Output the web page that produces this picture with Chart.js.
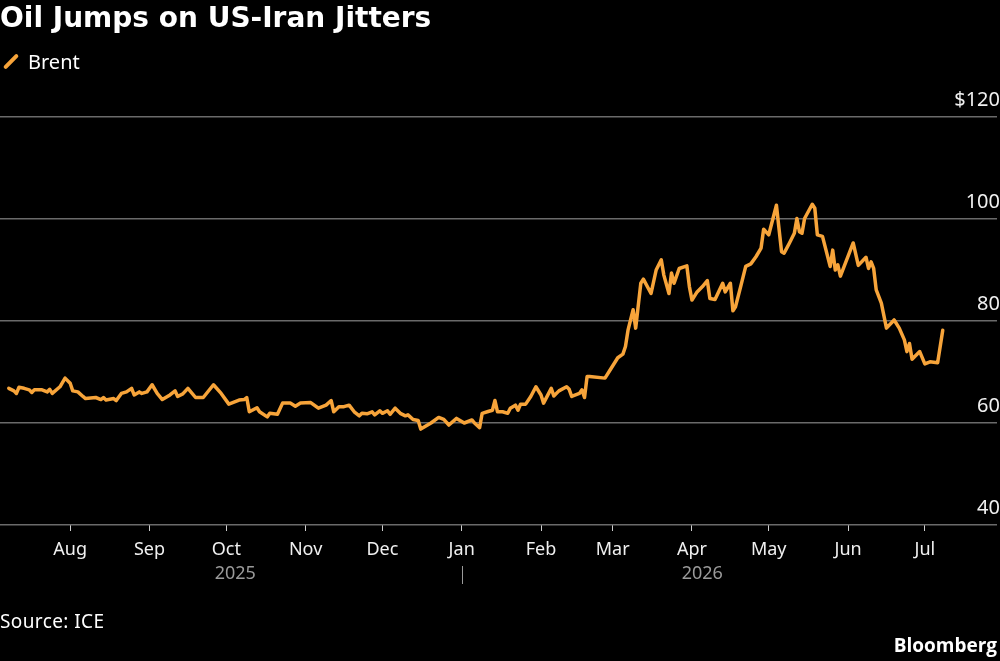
<!DOCTYPE html>
<html>
<head>
<meta charset="utf-8">
<script src="https://cdn.jsdelivr.net/npm/chart.js@4/dist/chart.umd.min.js"></script>
<style>
  html, body { margin: 0; padding: 0; background: #000; }
  body { width: 1000px; height: 661px; position: relative; overflow: hidden; font-family: 'Noto Sans', 'Open Sans', sans-serif; color: #fff; }
  #chart { position: absolute; left: 0; top: 0; }
  .title { position: absolute; left: 0; top: 0; font-size: 28px; line-height: 36px; font-weight: 700; font-family: 'DejaVu Sans', sans-serif; }
  .legend { position: absolute; left: 0; top: 50px; font-size: 20px; line-height: 24px; }
  .legend .mark { position: absolute; left: 9px; top: 2px; width: 4px; height: 19px; background: #f7a43a; border-radius: 2px; transform: rotate(45deg); }
  .legend .txt { position: absolute; left: 28px; top: 0; }
  .source { position: absolute; left: 0; top: 609px; font-size: 19px; line-height: 24px; letter-spacing: 0.4px; }
  .brand { position: absolute; right: 3px; top: 633px; font-size: 19px; line-height: 24px; font-weight: 700; font-family: 'Open Sans', 'Noto Sans', sans-serif; }
</style>
</head>
<body>
<canvas id="chart" width="1000" height="661"></canvas>
<div class="title">Oil Jumps on US-Iran Jitters</div>
<div class="legend"><span class="mark"></span><span class="txt">Brent</span></div>
<div class="source">Source: ICE</div>
<div class="brand">Bloomberg</div>
<script>
// days since 1 Aug 2025
const dayOffsets = [-24,-22,-21,-20,-18,-16,-15,-14,-11,-9,-8,-7,-4,-2,0,1,3,5,6,10,12,13,14,17,18,20,22,24,25,27,28,30,32,34,36,39,41,42,44,46,49,52,56,59,62,66,68,69,70,73,74,77,78,81,83,86,88,90,94,97,100,102,103,105,107,109,111,113,114,116,118,119,121,122,124,125,127,129,131,132,134,136,137,139,141,144,146,148,151,154,157,158,160,161,163,165,166,167,169,171,172,174,175,176,178,180,182,184,185,188,189,191,194,195,196,199,200,201,202,203,209,211,214,216,217,218,220,221,223,224,227,229,231,232,234,235,236,238,241,242,243,245,247,249,250,252,255,256,258,259,260,262,264,266,268,270,271,273,276,278,279,281,283,284,285,286,287,290,291,292,294,297,298,299,300,301,306,308,311,312,313,314,315,317,319,322,324,326,327,328,329,332,334,336,339,341];
const brent = [66.8,66.3,65.8,67.0,66.8,66.5,66.0,66.5,66.5,66.1,66.6,65.8,67.1,68.8,67.8,66.3,66.1,65.2,64.8,65.0,64.6,65.0,64.5,64.8,64.4,65.8,66.1,66.8,65.5,66.1,65.8,66.1,67.5,65.8,64.6,65.5,66.3,65.2,65.7,66.8,65.0,65.0,67.5,65.8,63.7,64.5,64.6,65.0,62.2,63.0,62.2,61.2,61.9,61.7,63.9,63.9,63.3,63.9,64.0,62.9,63.5,64.4,62.2,63.2,63.2,63.5,62.2,61.4,61.9,61.8,62.2,61.6,62.4,61.9,62.4,61.7,62.9,61.9,61.4,61.6,60.7,60.5,58.8,59.4,60.0,61.1,60.7,59.6,60.9,60.0,60.6,60.0,59.1,61.9,62.2,62.5,64.4,62.2,62.2,61.9,62.9,63.5,62.5,63.7,63.7,65.2,67.1,65.5,63.9,66.8,65.3,66.3,67.1,66.6,65.2,65.8,66.5,65.0,69.1,69.1,68.8,70.4,72.8,73.5,75.0,78.2,82.2,78.6,87.4,88.2,85.4,90.0,92.0,89.0,85.4,89.4,87.4,90.3,90.8,86.7,84.1,85.7,86.7,87.9,84.4,84.2,87.4,85.7,87.4,82.0,82.8,86.7,90.7,91.2,92.6,94.3,98.0,96.9,102.7,93.6,93.3,95.2,97.2,100.1,97.5,97.2,100.1,102.9,102.1,96.9,96.6,90.7,93.9,90.0,91.0,88.8,95.3,90.9,92.5,90.3,91.6,90.3,86.1,83.5,78.6,80.2,78.6,76.3,74.0,75.6,72.5,74.0,71.6,72.0,71.8,78.2];

const monthTicks = [0, 31, 61, 92, 122, 153, 184, 212, 243, 273, 304, 334];
const monthLabels = ['Aug', 'Sep', 'Oct', 'Nov', 'Dec', 'Jan', 'Feb', 'Mar', 'Apr', 'May', 'Jun', 'Jul'];
const yearLabels = ['2025', '2026'];
const yearStart = 153; // 1 Jan 2026
const yTicks = [40, 60, 80, 100, 120];

const orange = '#f7a43a';
const font = "'Noto Sans', 'Open Sans', sans-serif";

const yearPlugin = {
    id: 'years',
    afterDraw(chart) {
        const ctx = chart.ctx;
        const x = chart.scales.x;
        const first = dayOffsets[0];
        const last = dayOffsets[dayOffsets.length - 1];
        ctx.save();
        ctx.fillStyle = '#9a9a9a';
        ctx.strokeStyle = '#9a9a9a';
        ctx.font = '18px ' + font;
        ctx.textAlign = 'center';
        ctx.textBaseline = 'middle';
        ctx.fillText(yearLabels[0], x.getPixelForValue((first + yearStart) / 2), 574);
        ctx.fillText(yearLabels[1], x.getPixelForValue((yearStart + last) / 2), 574);
        const jx = Math.round(x.getPixelForValue(yearStart)) + 0.5;
        ctx.lineWidth = 1;
        ctx.beginPath();
        ctx.moveTo(jx, 566);
        ctx.lineTo(jx, 584);
        ctx.stroke();
        ctx.restore();
    }
};

new Chart(document.getElementById('chart').getContext('2d'), {
    type: 'line',
    data: {
        datasets: [{
            label: 'Brent',
            data: dayOffsets.map((d, i) => ({ x: d, y: brent[i] })),
            borderColor: orange,
            borderWidth: 3.5,
            borderJoinStyle: 'round',
            borderCapStyle: 'round',
            pointRadius: 0,
            tension: 0
        }]
    },
    options: {
        responsive: false,
        animation: false,
        layout: { padding: { top: 117, left: 0, right: 3, bottom: 0 } },
        plugins: { legend: { display: false }, tooltip: { enabled: false } },
        scales: {
            x: {
                type: 'linear',
                min: -27.43,
                max: 362.2,
                afterBuildTicks: (scale) => { scale.ticks = monthTicks.map(v => ({ value: v })); },
                afterFit: (scale) => { scale.height = 136; },
                grid: { drawOnChartArea: false, drawTicks: true, tickLength: 6, color: '#cfcfcf', lineWidth: 1 },
                border: { display: false },
                ticks: {
                    autoSkip: false,
                    maxRotation: 0,
                    padding: 8,
                    color: '#f0f0f0',
                    font: { family: font, size: 18 },
                    callback: (v) => monthLabels[monthTicks.indexOf(v)]
                }
            },
            y: {
                position: 'right',
                min: 40,
                max: 120,
                afterBuildTicks: (scale) => { scale.ticks = yTicks.map(v => ({ value: v })); },
                afterFit: (scale) => { scale.width = 0; },
                grid: { color: '#6a6a6a', lineWidth: 1.5, drawTicks: false },
                border: { display: false },
                ticks: {
                    mirror: true,
                    padding: 3,
                    labelOffset: -17,
                    color: '#f0f0f0',
                    font: { family: font, size: 20 },
                    callback: (v) => v === 120 ? '$120' : v
                }
            }
        }
    },
    plugins: [yearPlugin]
});
</script>
</body>
</html>
